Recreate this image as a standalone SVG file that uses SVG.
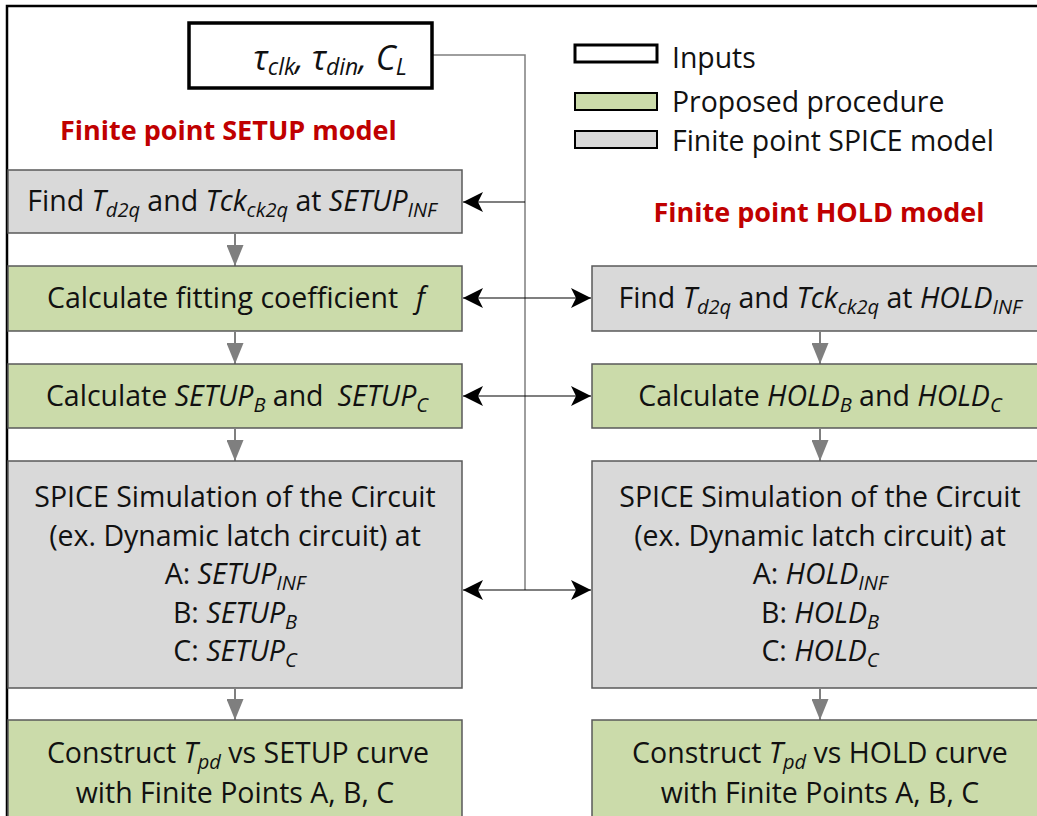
<svg xmlns="http://www.w3.org/2000/svg" width="1037" height="816" viewBox="0 0 1037 816">
  <defs>
    <style>
      .t { font-family: "Open Sans", "Liberation Sans", sans-serif; font-size: 28.5px; fill: #111; text-anchor: middle; }
      .i { font-style: italic; }
      .s { font-size: 20px; font-style: italic; }
      .title { font-family: "Open Sans", "Liberation Sans", sans-serif; font-size: 27px; font-weight: bold; fill: #c00000; }
      .leg { font-family: "Open Sans", "Liberation Sans", sans-serif; font-size: 28.4px; fill: #111; }
      .gray { fill: #d9d9d9; stroke: #595959; stroke-width: 1.5; }
      .green { fill: #cbdbaa; stroke: #595959; stroke-width: 1.5; }
      .input { fill: #fff; stroke: #000; stroke-width: 3.5; }
      .flow { stroke: #7f7f7f; stroke-width: 2; fill: none; marker-end: url(#gh); }
      .bus { stroke: #7f7f7f; stroke-width: 1.5; fill: none; }
      .link { stroke: #000; stroke-width: 1.2; fill: none; }
    </style>
    <marker id="gh" viewBox="0 0 10 10" refX="10" refY="5" markerWidth="21" markerHeight="17" preserveAspectRatio="none" markerUnits="userSpaceOnUse" orient="auto">
      <path d="M0,0 L10,5 L0,10 Z" fill="#7f7f7f"/>
    </marker>
    <marker id="bh" viewBox="0 0 10 10" refX="10" refY="5" markerWidth="20" markerHeight="20" markerUnits="userSpaceOnUse" orient="auto-start-reverse">
      <path d="M0,0 L10,5 L0,10 L2.5,5 Z" fill="#000"/>
    </marker>
  </defs>

  <rect width="1037" height="816" fill="#fff"/>

  <!-- outer frame -->
  <path d="M7,816 V6 H1037" stroke="#000" stroke-width="2.5" fill="none"/>

  <!-- connectors -->
  <g id="connectors">
    <path class="bus" d="M432,55 H525 V590"/>
    <line class="link" x1="525" y1="202" x2="463" y2="202" marker-end="url(#bh)"/>
    <line class="link" x1="463" y1="298" x2="591" y2="298" marker-start="url(#bh)" marker-end="url(#bh)"/>
    <line class="link" x1="463" y1="396" x2="591" y2="396" marker-start="url(#bh)" marker-end="url(#bh)"/>
    <line class="link" x1="463" y1="590" x2="591" y2="590" marker-start="url(#bh)" marker-end="url(#bh)"/>
    <!-- setup column flow -->
    <line class="flow" x1="235" y1="234" x2="235" y2="266"/>
    <line class="flow" x1="235" y1="332" x2="235" y2="364"/>
    <line class="flow" x1="235" y1="429" x2="235" y2="461"/>
    <line class="flow" x1="235" y1="689" x2="235" y2="720"/>
    <!-- hold column flow -->
    <line class="flow" x1="820" y1="332" x2="820" y2="364"/>
    <line class="flow" x1="820" y1="429" x2="820" y2="461"/>
    <line class="flow" x1="820" y1="689" x2="820" y2="720"/>
  </g>

  <!-- inputs -->
  <g id="inputs">
    <rect class="input" x="189" y="23" width="243" height="65"/>
    <text class="t i" x="330" y="70" style="font-size:34px">τ<tspan font-size="23" dy="5">clk</tspan><tspan dy="-5">,</tspan><tspan dx="8">τ</tspan><tspan font-size="23" dy="5">din</tspan><tspan dy="-5">, C</tspan><tspan font-size="23" dy="5">L</tspan></text>
  </g>

  <!-- legend -->
  <g id="legend">
    <rect x="575" y="45" width="82" height="17" fill="#fff" stroke="#000" stroke-width="3"/>
    <text class="leg" x="672" y="68">Inputs</text>
    <rect x="575" y="93" width="82" height="17" class="green" style="stroke:#000;stroke-width:2"/>
    <text class="leg" x="672" y="112">Proposed procedure</text>
    <rect x="575" y="131" width="82" height="17" class="gray" style="stroke:#000;stroke-width:2"/>
    <text class="leg" x="672" y="151">Finite point SPICE model</text>
  </g>

  <text class="title" x="60" y="140">Finite point SETUP model</text>
  <text class="title" x="819" y="222" text-anchor="middle">Finite point HOLD model</text>

  <!-- SETUP column -->
  <g id="setup-find">
    <rect class="gray" x="8" y="170" width="454" height="63"/>
    <text class="t" x="232" y="211">Find <tspan class="i">T</tspan><tspan class="s" dy="6">d2q</tspan><tspan dy="-6"> and </tspan><tspan class="i">Tck</tspan><tspan class="s" dy="6">ck2q</tspan><tspan dy="-6"> at </tspan><tspan class="i">SETUP</tspan><tspan class="s" dy="6">INF</tspan></text>
  </g>
  <g id="setup-fit">
    <rect class="green" x="8" y="266" width="454" height="65"/>
    <text class="t" x="236" y="308">Calculate fitting coefficient<tspan class="i" dx="18">f</tspan></text>
  </g>
  <g id="setup-bc">
    <rect class="green" x="8" y="364" width="454" height="64"/>
    <text class="t" x="237" y="406">Calculate <tspan class="i">SETUP</tspan><tspan class="s" dy="6">B</tspan><tspan dy="-6"> and</tspan><tspan class="i" dx="14">SETUP</tspan><tspan class="s" dy="6">C</tspan></text>
  </g>
  <g id="setup-spice">
    <rect class="gray" x="8" y="461" width="454" height="227"/>
    <text class="t" x="235" y="507">SPICE Simulation of the Circuit</text>
    <text class="t" x="235" y="546">(ex. Dynamic latch circuit) at</text>
    <text class="t" x="235" y="584">A: <tspan class="i">SETUP</tspan><tspan class="s" dy="6">INF</tspan></text>
    <text class="t" x="235" y="623">B: <tspan class="i">SETUP</tspan><tspan class="s" dy="6">B</tspan></text>
    <text class="t" x="235" y="661">C: <tspan class="i">SETUP</tspan><tspan class="s" dy="6">C</tspan></text>
  </g>
  <g id="setup-curve">
    <rect class="green" x="8" y="720" width="454" height="110"/>
    <text class="t" x="238" y="763">Construct <tspan class="i">T</tspan><tspan class="s" dy="6">pd</tspan><tspan dy="-6"> vs SETUP curve</tspan></text>
    <text class="t" x="235" y="803">with Finite Points A, B, C</text>
  </g>

  <!-- HOLD column -->
  <g id="hold-find">
    <rect class="gray" x="592" y="266" width="456" height="65"/>
    <text class="t" x="820" y="308">Find <tspan class="i">T</tspan><tspan class="s" dy="6">d2q</tspan><tspan dy="-6"> and </tspan><tspan class="i">Tck</tspan><tspan class="s" dy="6">ck2q</tspan><tspan dy="-6"> at </tspan><tspan class="i">HOLD</tspan><tspan class="s" dy="6">INF</tspan></text>
  </g>
  <g id="hold-bc">
    <rect class="green" x="592" y="364" width="456" height="64"/>
    <text class="t" x="820" y="406">Calculate <tspan class="i">HOLD</tspan><tspan class="s" dy="6">B</tspan><tspan dy="-6"> and </tspan><tspan class="i">HOLD</tspan><tspan class="s" dy="6">C</tspan></text>
  </g>
  <g id="hold-spice">
    <rect class="gray" x="592" y="461" width="456" height="227"/>
    <text class="t" x="820" y="507">SPICE Simulation of the Circuit</text>
    <text class="t" x="820" y="546">(ex. Dynamic latch circuit) at</text>
    <text class="t" x="820" y="584">A: <tspan class="i">HOLD</tspan><tspan class="s" dy="6">INF</tspan></text>
    <text class="t" x="820" y="623">B: <tspan class="i">HOLD</tspan><tspan class="s" dy="6">B</tspan></text>
    <text class="t" x="820" y="661">C: <tspan class="i">HOLD</tspan><tspan class="s" dy="6">C</tspan></text>
  </g>
  <g id="hold-curve">
    <rect class="green" x="592" y="720" width="456" height="110"/>
    <text class="t" x="820" y="763">Construct <tspan class="i">T</tspan><tspan class="s" dy="6">pd</tspan><tspan dy="-6"> vs HOLD curve</tspan></text>
    <text class="t" x="820" y="803">with Finite Points A, B, C</text>
  </g>
</svg>
